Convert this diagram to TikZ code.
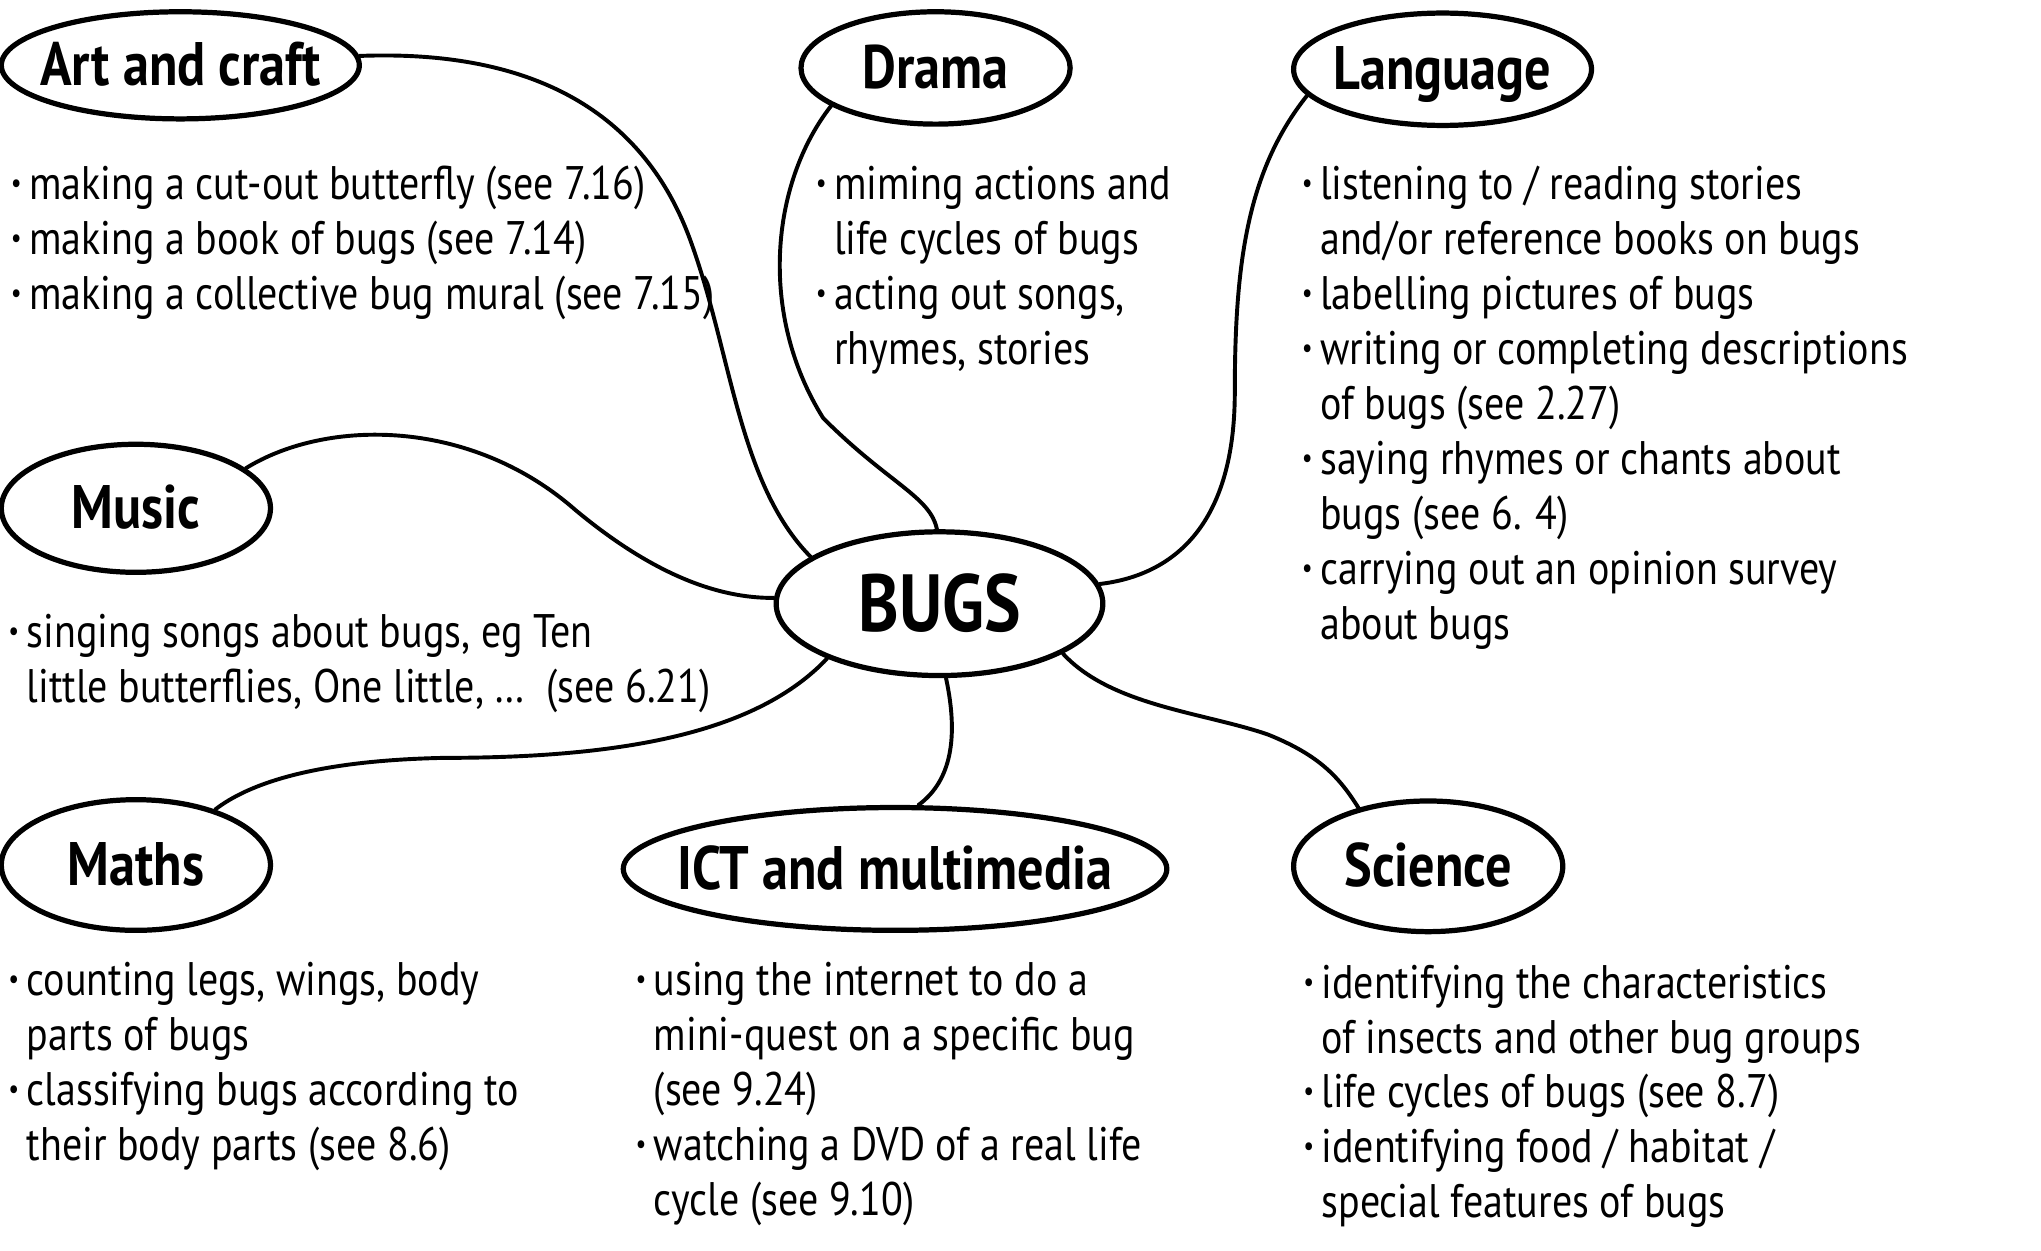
\documentclass[tikz,border=0pt]{standalone}
\usepackage{fontspec}
\setmainfont{PT Sans}[FakeStretch=0.85]
\usetikzlibrary{shapes.geometric}
\newcommand\bul{\makebox[7pt][l]{\raisebox{.3ex}{\scalebox{.6}{\textbullet}}}}
\newcommand\ind{\hspace*{7pt}}
\newcommand\hd[1]{\makebox[0pt]{#1}}
\begin{document}
\begin{tikzpicture}[x=0.5pt,y=-0.5pt,
    topic/.style={draw, ellipse, line width=2pt, inner sep=0pt,
      text height=15.5pt, text depth=0pt, font=\fontsize{23.5}{26}\selectfont\bfseries},
    hub/.style={topic, text height=21pt, font=\fontsize{31}{34}\selectfont\bfseries},
    list/.style={anchor=north west, inner sep=0pt, align=left,
      font=\fontsize{18}{21}\selectfont},
    link/.style={line width=1.5pt, line cap=round}]
  \useasboundingbox (0,0) rectangle (1562,957);

  % topics
  \node[hub, minimum width=125pt, minimum height=55pt] (bugs) at (719,462) {\hd{BUGS}};
  \node[topic, minimum width=137pt, minimum height=41pt] (art) at (138,50) {\hd{Art and craft}};
  \node[topic, minimum width=103pt, minimum height=43pt] (drama) at (716,52) {\hd{Drama}};
  \node[topic, minimum width=114pt, minimum height=43pt] (language) at (1104,53) {\hd{Language}};
  \node[topic, minimum width=103pt, minimum height=49pt] (music) at (104,389) {\hd{Music}};
  \node[topic, minimum width=103pt, minimum height=50pt] (maths) at (104,662) {\hd{Maths}};
  \node[topic, minimum width=208pt, minimum height=47pt] (ict) at (685,665) {\hd{ICT and multimedia}};
  \node[topic, minimum width=103pt, minimum height=50pt] (science) at (1093,663) {\hd{Science}};

  % lists
  \node[list] (artlist) at (8,127) {\bul making a cut-out butterfly (see 7.16)\\
    \bul making a book of bugs (see 7.14)\\
    \bul making a collective bug mural (see 7.15)};
  \node[list] (dramalist) at (624,127) {\bul miming actions and\\
    \ind life cycles of bugs\\
    \bul acting out songs,\\
    \ind rhymes, stories};
  \node[list] (languagelist) at (996,127) {\bul listening to / reading stories\\
    \ind and/or reference books on bugs\\
    \bul labelling pictures of bugs\\
    \bul writing or completing descriptions\\
    \ind of bugs (see 2.27)\\
    \bul saying rhymes or chants about\\
    \ind bugs (see 6. 4)\\
    \bul carrying out an opinion survey\\
    \ind about bugs};
  \node[list] (musiclist) at (6,470) {\bul singing songs about bugs, eg Ten\\
    \ind little butterflies, One little, \ldots\ \ (see 6.21)};
  \node[list] (mathslist) at (6,736) {\bul counting legs, wings, body\\
    \ind parts of bugs\\
    \bul classifying bugs according to\\
    \ind their body parts (see 8.6)};
  \node[list] (ictlist) at (486,736) {\bul using the internet to do a\\
    \ind mini-quest on a specific bug\\
    \ind (see 9.24)\\
    \bul watching a DVD of a real life\\
    \ind cycle (see 9.10)};
  \node[list] (sciencelist) at (997,738) {\bul identifying the characteristics\\
    \ind of insects and other bug groups\\
    \bul life cycles of bugs (see 8.7)\\
    \bul identifying food / habitat /\\
    \ind special features of bugs};

  % links
  \draw[link] (art.3) .. controls (400,38) and (490,80) .. (528,183)
    .. controls (560,270) and (565,370) .. (bugs.160);
  \draw[link] (drama.200) .. controls (590,140) and (580,240) .. (630,320)
    .. controls (680,370) and (712,380) .. (bugs.92);
  \draw[link] (language.191) .. controls (955,130) and (945,200) .. (945,300)
    .. controls (945,400) and (900,440) .. (bugs.7);
  \draw[link] (music.20) .. controls (250,320) and (360,320) .. (440,390)
    .. controls (500,440) and (550,458) .. (bugs.178);
  \draw[link] (bugs.206) .. controls (580,560) and (480,580) .. (340,580)
    .. controls (240,582) and (190,600) .. (maths.35);
  \draw[link] (bugs.275) .. controls (735,570) and (725,600) .. (ict.70);
  \draw[link] (bugs.338) .. controls (850,540) and (920,545) .. (970,562)
    .. controls (1010,578) and (1025,595) .. (science.140);
\end{tikzpicture}
\end{document}
